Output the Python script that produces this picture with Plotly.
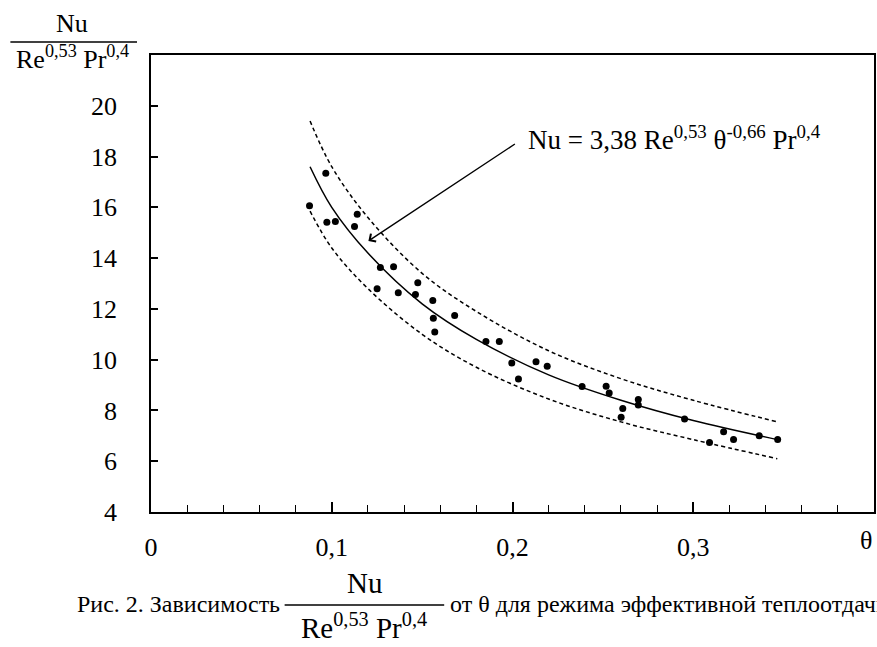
import plotly.graph_objects as go

# ---- data ----
theta = [0.0877, 0.0967, 0.0973, 0.1020, 0.1126, 0.1141, 0.1251, 0.1269, 0.1342,
         0.1368, 0.1463, 0.1476, 0.1559, 0.1562, 0.1570, 0.1680, 0.1853, 0.1927,
         0.1996, 0.2033, 0.2130, 0.2192, 0.2385, 0.2518, 0.2535, 0.2601, 0.2610,
         0.2696, 0.2696, 0.2952, 0.3090, 0.3168, 0.3223, 0.3365, 0.3467]
nu_red = [16.06, 17.34, 15.41, 15.44, 15.25, 15.73, 12.79, 13.63, 13.66,
          12.64, 12.57, 13.03, 12.33, 11.63, 11.09, 11.74, 10.72, 10.72,
          9.87, 9.24, 9.92, 9.74, 8.94, 8.95, 8.69, 7.73, 8.08,
          8.43, 8.21, 7.66, 6.74, 7.16, 6.86, 7.00, 6.86]

curve_x = [0.0880, 0.100, 0.120, 0.150, 0.180, 0.220, 0.260, 0.300, 0.3465]
fit_y = [17.6, 16.0, 14.2, 12.2, 10.8, 9.4, 8.4, 7.6, 6.85]
upper_y = [19.4, 17.6, 15.6, 13.4, 11.9, 10.35, 9.25, 8.4, 7.55]
lower_y = [15.85, 14.4, 12.8, 11.0, 9.7, 8.45, 7.55, 6.85, 6.1]

x_tickvals = [0, 0.1, 0.2, 0.3]
x_ticktext = ["0", "0,1", "0,2", "0,3"]
y_tickvals = [4, 6, 8, 10, 12, 14, 16, 18, 20]

FONT = "Liberation Serif"

fig = go.Figure()
fig.add_trace(go.Scatter(x=curve_x, y=upper_y, mode="lines", line_shape="spline",
                         line=dict(color="black", width=1.5, dash="4px,3px"), hoverinfo="skip"))
fig.add_trace(go.Scatter(x=curve_x, y=lower_y, mode="lines", line_shape="spline",
                         line=dict(color="black", width=1.5, dash="4px,3px"), hoverinfo="skip"))
fig.add_trace(go.Scatter(x=curve_x, y=fit_y, mode="lines", line_shape="spline",
                         line=dict(color="black", width=1.5), hoverinfo="skip"))
fig.add_trace(go.Scatter(x=theta, y=nu_red, mode="markers",
                         marker=dict(color="black", size=7)))

W, H = 877, 647
L, R, T, B = 151, 1, 55, 135
pw, ph = W - L - R, H - T - B

def px(x):
    return (x - L) / pw

def py(y):
    return (H - B - y) / ph

fig.update_layout(
    width=W, height=H,
    margin=dict(l=L, r=R, t=T, b=B),
    plot_bgcolor="white", paper_bgcolor="white",
    showlegend=False,
    font=dict(family=FONT, size=26, color="black"),
)
fig.update_xaxes(
    range=[0, 0.4], tickmode="array", tickvals=x_tickvals, ticktext=x_ticktext,
    ticks="inside", ticklen=10, tickwidth=1.5, tickcolor="black",
    showline=True, linecolor="black", linewidth=1.5, mirror=True,
    showgrid=False, zeroline=False, ticklabelstandoff=11,
    tickfont=dict(family=FONT, size=26),
    minor=dict(tickmode="linear", tick0=0, dtick=0.02, ticks="inside", ticklen=7,
               tickwidth=1.2, tickcolor="black", showgrid=False),
)
fig.update_yaxes(
    range=[4, 22], tickmode="array", tickvals=y_tickvals,
    ticks="inside", ticklen=7, tickwidth=1.5, tickcolor="black",
    showline=True, linecolor="black", linewidth=1.5, mirror=True,
    showgrid=False, zeroline=False, ticklabelstandoff=27,
    tickfont=dict(family=FONT, size=26),
)

ann = []
ann.append(dict(xref="paper", yref="paper", x=px(527), y=py(138), xanchor="left", yanchor="middle",
                text="Nu = 3,38 Re<sup>0,53</sup> θ<sup>-0,66</sup> Pr<sup>0,4</sup>",
                showarrow=False, font=dict(family=FONT, size=27)))
ann.append(dict(xref="x", yref="y", x=(369 - L) / pw * 0.4, y=4 + (512 - 241) / ph * 18,
                ax=148, ay=-98, axref="pixel", ayref="pixel", text="",
                showarrow=True, arrowhead=4, arrowsize=1.3, arrowwidth=1.4, arrowcolor="black"))
ann.append(dict(xref="paper", yref="paper", x=px(868), y=py(540), xanchor="center", yanchor="middle",
                text="θ", showarrow=False, font=dict(family=FONT, size=26)))
ann.append(dict(xref="paper", yref="paper", x=px(72), y=py(24), xanchor="center", yanchor="middle",
                text="Nu", showarrow=False, font=dict(family=FONT, size=26)))
ann.append(dict(xref="paper", yref="paper", x=px(72), y=py(57), xanchor="center", yanchor="middle",
                text="Re<sup>0,53</sup> Pr<sup>0,4</sup>", showarrow=False, font=dict(family=FONT, size=26)))
ann.append(dict(xref="paper", yref="paper", x=px(282), y=py(604), xanchor="right", yanchor="middle",
                text="Рис. 2. Зависимость", showarrow=False, font=dict(family=FONT, size=24)))
ann.append(dict(xref="paper", yref="paper", x=px(365), y=py(583), xanchor="center", yanchor="middle",
                text="Nu", showarrow=False, font=dict(family=FONT, size=29)))
ann.append(dict(xref="paper", yref="paper", x=px(365), y=py(626), xanchor="center", yanchor="middle",
                text="Re<sup>0,53</sup> Pr<sup>0,4</sup>", showarrow=False, font=dict(family=FONT, size=29)))
ann.append(dict(xref="paper", yref="paper", x=px(449), y=py(604), xanchor="left", yanchor="middle",
                text="от θ для режима эффективной теплоотдачи", showarrow=False,
                font=dict(family=FONT, size=24)))
fig.update_layout(annotations=ann)

shapes = [
    dict(type="line", xref="paper", yref="paper", x0=px(10), x1=px(137), y0=py(42), y1=py(42),
         line=dict(color="black", width=1.5)),
    dict(type="line", xref="paper", yref="paper", x0=px(285), x1=px(445), y0=py(605), y1=py(605),
         line=dict(color="black", width=1.5)),
]
fig.update_layout(shapes=shapes)

fig.write_html("out.html")
